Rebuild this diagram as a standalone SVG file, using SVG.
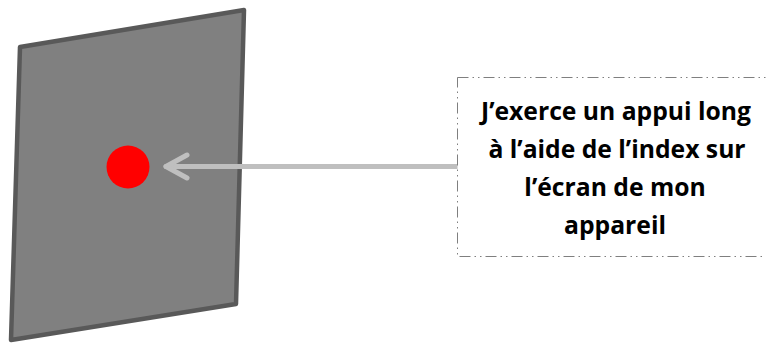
<svg xmlns="http://www.w3.org/2000/svg" width="766" height="343" viewBox="0 0 766 343">
<style>
.lbl{font-family:"Open Sans","Liberation Sans",sans-serif;font-weight:bold;font-size:24.7px;fill:#000;text-anchor:middle}
.conn{stroke:#BFBFBF;stroke-width:5;fill:none;stroke-linecap:round;stroke-linejoin:round}
</style>
<rect width="766" height="343" fill="#fff"/>
<g id="screen">
<polygon points="20,47 244,10 236,304 11,340" fill="#808080" stroke="#595959" stroke-width="4.5" stroke-linejoin="round"/>
</g>
<g id="touch-point">
<circle cx="128" cy="167" r="21.5" fill="#FF0000"/>
</g>
<g id="connectors">
<line class="conn" x1="457" y1="166.5" x2="166" y2="166.5"/>
<polyline class="conn" points="187,155 166,166.5 187,178"/>
</g>
<g id="label-box">
<rect x="457.5" y="77.5" width="320" height="179" fill="#fff" stroke="#7F7F7F" stroke-width="1" stroke-dasharray="11 4 1.5 4 1.5 4"/>
<text class="lbl" x="616" y="120">J’exerce un appui long</text>
<text class="lbl" x="617" y="158">à l’aide de l’index sur</text>
<text class="lbl" x="615" y="196">l’écran de mon</text>
<text class="lbl" x="615" y="234">appareil</text>
</g>
</svg>
